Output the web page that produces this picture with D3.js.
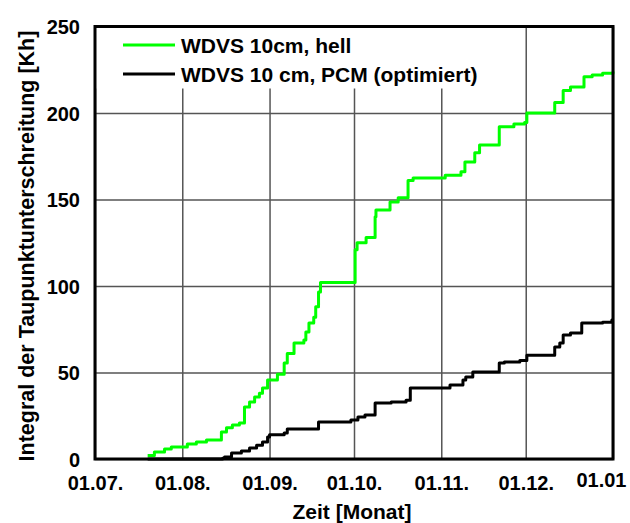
<!DOCTYPE html>
<html><head><meta charset="utf-8">
<script src="https://cdn.jsdelivr.net/npm/d3@7"></script>
<style>
html,body{margin:0;padding:0;background:#fff;}
svg text{font-family:"Liberation Sans",Arial,sans-serif;font-weight:bold;fill:#000;}
</style></head>
<body><svg id="c" width="630" height="523"></svg>
<script>
// Days since 01.07. and cumulative values [Kh]
const gruenTage = [18.7,21.1,24.7,27.1,32.8,36.0,39.6,44.9,46.7,48.8,51.3,53.1,54.9,56.7,58.4,59.5,61.3,64.8,67.2,68.3,70.7,74.2,74.9,76.0,77.7,78.4,79.4,80.1,92.4,93.1,96.3,99.5,99.8,104.8,107.7,111.2,113.0,124.4,130.0,131.4,134.9,136.6,143.6,148.8,152.6,153.4,163.3,166.3,168.9,173.7,176.6,180.3,184];
const gruenWerte = [2,4,5.8,7,8.7,9.8,11,15.6,18,19.7,20.8,30,33,35.8,38,41,45.7,49,55.5,61,67,68.8,73.4,78.6,82,88,96.5,102,121,125,128,140,144,148.5,151,161,162.5,164,166,171.7,177,181.5,192,193.6,194.5,200,206,213,215,221,222,223,224];
const schwarzTage = [18.7,45.3,46.0,48.5,52.0,54.9,57.4,59.5,61.3,62,67.2,68.3,79.4,90.9,93.4,95.9,99.5,105.2,110.5,112.0,126.1,130.7,131.7,134.2,143.6,145.4,150.9,153.4,163.3,165.1,166.3,168.9,172.9,180.3,183.6,184];
const schwarzWerte = [0,0.5,1.2,3.5,4.6,6.4,8,9.8,12.7,14,15,17.3,21.4,22.5,24.3,25.4,32.4,33,34,41,42.8,45.7,47.4,50.3,55.5,56,57,60,64.7,67,71.7,72.8,78.6,79,80.3,80.3];
const serienNamen = ["WDVS 10cm, hell","WDVS 10 cm, PCM (optimiert)"];
const serienFarben = ["#00ff00","#000000"];
const yTicks = [0,50,100,150,200,250];
const xTickLabels = ["01.07.","01.08.","01.09.","01.10.","01.11.","01.12.","01.01"];

const start = new Date(2007,6,1), end = new Date(2008,0,1);
const L=95,R=613,T=26.5,B=459;
const x = d3.scaleTime().domain([start,end]).range([L,R]);
const y = d3.scaleLinear().domain([0,250]).range([B,T]);
const svg = d3.select("#c");
const xTicks = d3.timeMonth.range(start, d3.timeDay.offset(end,1));
const toDate = t => new Date(start.getTime() + t*86400000);

// gridlines
const gx = svg.append("g").attr("transform",`translate(0,${B})`)
  .call(d3.axisBottom(x).tickValues(xTicks).tickSize(-(B-T)).tickFormat(""));
const gy = svg.append("g").attr("transform",`translate(${L},0)`)
  .call(d3.axisLeft(y).tickValues(yTicks).tickSize(-(R-L)).tickFormat(""));
[gx,gy].forEach(g=>{g.select(".domain").remove();g.selectAll("line").attr("stroke","#555").attr("stroke-width",1.5);});

// legend background (covers gridlines)
svg.append("rect").attr("x",L).attr("y",T).attr("width",400).attr("height",62).attr("fill","#fff");

// series
const line = d3.line().x(d=>x(toDate(d[0]))).y(d=>y(d[1])).curve(d3.curveStepAfter);
const series = [d3.zip(gruenTage,gruenWerte), d3.zip(schwarzTage,schwarzWerte)];
series.slice().reverse().forEach((s,i)=>{
  const idx = series.length-1-i;
  svg.append("path").datum(s).attr("d",line).attr("fill","none")
    .attr("stroke",serienFarben[idx]).attr("stroke-width",3).attr("stroke-linejoin","round");
});

// frame
svg.append("rect").attr("x",L).attr("y",T).attr("width",R-L).attr("height",B-T)
  .attr("fill","none").attr("stroke","#000").attr("stroke-width",3);

// y tick labels
const ya = svg.append("g").attr("transform",`translate(${L-15},0)`)
  .call(d3.axisLeft(y).tickValues(yTicks).tickSize(0).tickPadding(0));
ya.select(".domain").remove();
ya.selectAll("text").attr("font-size",20).attr("font-family",null).attr("dy","0.36em");

// x tick labels
const xa = svg.append("g").attr("transform",`translate(0,${B+11})`)
  .call(d3.axisBottom(x).tickValues(xTicks).tickSize(0).tickPadding(0).tickFormat((d,i)=>xTickLabels[i]));
xa.select(".domain").remove();
xa.selectAll("text").attr("font-size",20).attr("font-family",null).attr("dy","1.0em");
xa.selectAll("text").filter((d,i)=>i===xTickLabels.length-1).attr("text-anchor","end").attr("dx",13).attr("dy","0.86em");

// axis titles
svg.append("text").attr("x",352).attr("y",519).attr("text-anchor","middle").attr("font-size",21).text("Zeit [Monat]");
svg.append("text").attr("transform",`translate(34,246) rotate(-90)`).attr("text-anchor","middle").attr("font-size",21.5).text("Integral der Taupunktunterschreitung [Kh]");

// legend
serienNamen.forEach((n,i)=>{
  const yy = 45 + i*29;
  svg.append("line").attr("x1",123).attr("x2",175).attr("y1",yy).attr("y2",yy).attr("stroke",serienFarben[i]).attr("stroke-width",3);
  svg.append("text").attr("x",181).attr("y",yy+8).attr("font-size",21).text(n);
});
</script></body></html>
